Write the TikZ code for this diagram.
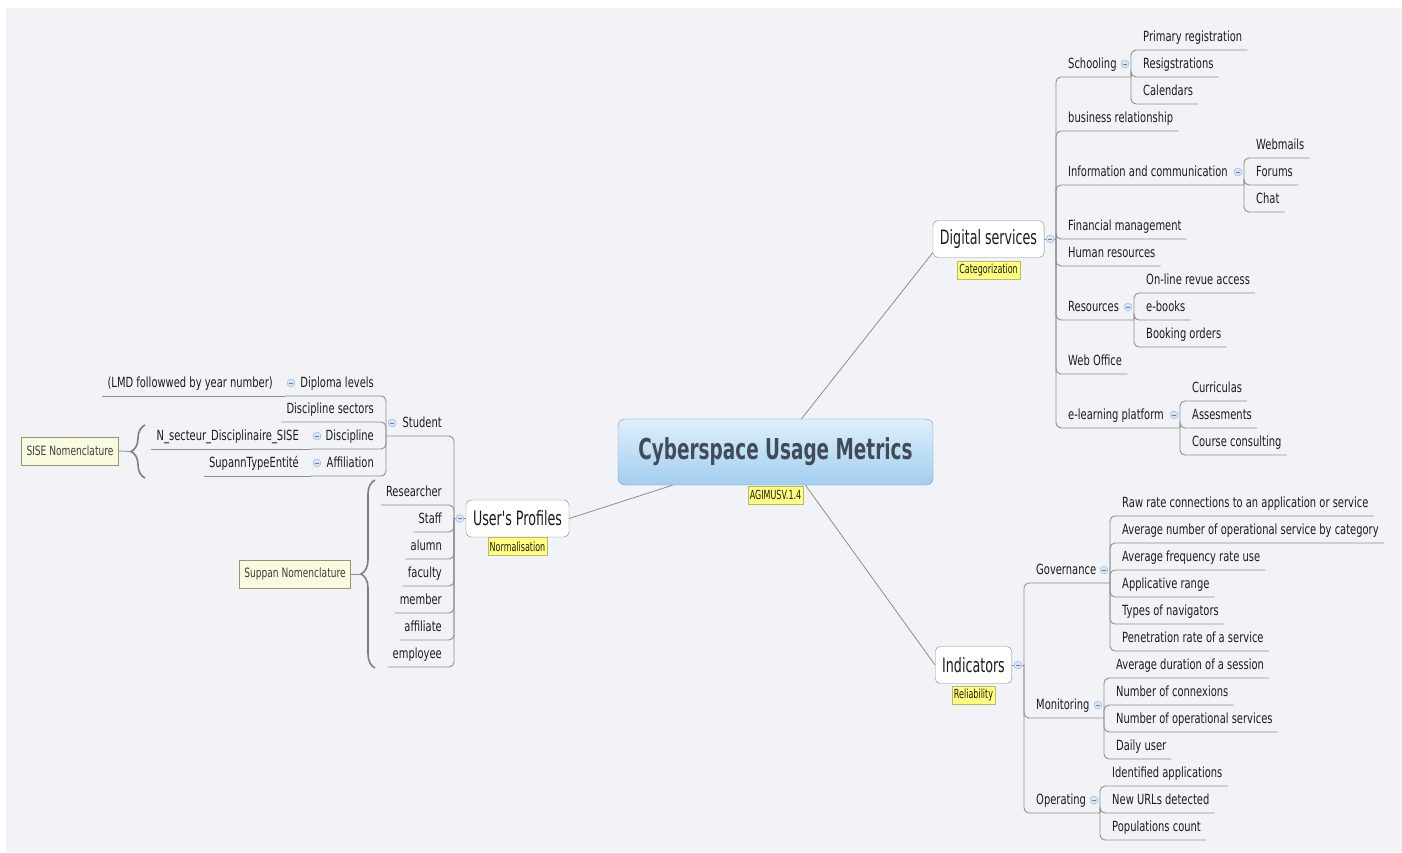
\documentclass[tikz,border=0pt]{standalone}
\usepackage{fontspec}
\setmainfont{DejaVu Sans}[FakeStretch=0.71]
\newfontfamily\titlefont{DejaVu Sans}[FakeStretch=0.64]
\usetikzlibrary{positioning, calc, decorations.pathreplacing}

\definecolor{paper}{RGB}{242,243,247}
\definecolor{ink}{RGB}{28,28,28}
\definecolor{wirec}{RGB}{140,140,145}
\definecolor{framec}{RGB}{135,135,135}
\definecolor{hubtop}{RGB}{222,239,252}
\definecolor{hubbot}{RGB}{163,206,240}
\definecolor{hubline}{RGB}{120,150,180}
\definecolor{hubtext}{RGB}{66,76,88}
\definecolor{tagfill}{RGB}{255,255,125}
\definecolor{tagline}{RGB}{185,185,110}
\definecolor{calfill}{RGB}{250,250,224}
\definecolor{calline}{RGB}{150,150,115}
\definecolor{foldfill}{RGB}{214,228,246}
\definecolor{foldline}{RGB}{150,178,212}

\tikzset{
  hub/.style={draw=hubline, rounded corners=7pt, top color=hubtop, bottom color=hubbot,
    minimum width=315pt, minimum height=66pt, text=hubtext,
    font=\titlefont\bfseries\fontsize{28.8}{34}\selectfont},
  lvl1/.style={draw=framec, fill=white, rounded corners=5pt, inner xsep=7pt,
    minimum height=37pt, text=ink, font=\titlefont\fontsize{19.8}{24}\selectfont},
  tag/.style={draw=tagline, fill=tagfill, inner xsep=2pt, inner ysep=0pt,
    minimum height=18pt, text=ink, font=\titlefont\fontsize{12.5}{14}\selectfont},
  callout/.style={draw=calline, fill=calfill, inner xsep=5pt, minimum height=28pt,
    text=ink!85, font=\fontsize{12.8}{15}\selectfont},
  topic/.style={font=\fontsize{14}{16}\selectfont, text=ink, inner xsep=5pt,
    inner ysep=0pt, text height=10.5pt, text depth=8pt},
  rtopic/.style={topic, anchor=south west},
  ltopic/.style={topic, anchor=south east},
  fold/.style={circle, draw=foldline, fill=foldfill, minimum size=8pt, inner sep=0pt,
    path picture={\draw[foldline!70!black, line width=0.7pt]
      ([xshift=-2pt]path picture bounding box.center) -- ([xshift=2pt]path picture bounding box.center);}},
  wire/.style={draw=wirec, line width=0.9pt},
  branch/.style={wire, rounded corners=5pt},
  link/.style={draw=wirec, line width=0.8pt},
  bracket/.style={draw=wirec!90!black, line width=1.6pt, decorate, decoration={brace, amplitude=14pt}},
}

\begin{document}
\begin{tikzpicture}[x=1pt, y=-1pt]
\useasboundingbox (0,0) rectangle (1402,852);
\fill[white] (0,0) rectangle (1402,852);
\fill[paper] (6,8) rectangle (1402,852);

\node[hub] (cum) at (775.5,452) {Cyberspace Usage Metrics};
\node[lvl1] (ds) at (988.5,239) {Digital services};
\node[lvl1] (ind) at (973.5,665) {Indicators};
\node[lvl1] (up) at (517.5,518.5) {User's Profiles};

\draw[link] ([xshift=26pt]cum.north) -- ([yshift=5pt]ds.south west);
\draw[link] ([xshift=30pt]cum.south) -- (ind.west);
\draw[link] ([xshift=-103pt]cum.south) -- (up.east);

\node[tag, below=1pt of cum] (agimus) {AGIMUSV.1.4};
\node[tag, below=3pt of ds] (catg) {Categorization};
\node[tag, below=2pt of ind] (reli) {Reliability};
\node[tag, below=0pt of up] (norm) {Normalisation};

\coordinate (ds-sp) at (1056,239);
\coordinate (sch-sp) at (1131,77);
\coordinate (inf-sp) at (1244,185);
\coordinate (res-sp) at (1134,320);
\coordinate (elr-sp) at (1180,428);
\draw[wire] (ds.east) -- (ds-sp);
\foreach \nm/\txt/\uy in {sch/Schooling/77, inf/Information and communication/185,
    res/Resources/320, elr/e-learning platform/428}{
  \node[rtopic] (\nm) at (1063,\uy) {\txt};
  \draw[branch] (ds-sp) |- (\nm-sp);
}
\foreach \nm/\txt/\uy in {busi/business relationship/131, fin/Financial management/239,
    hum/Human resources/266, web/Web Office/374}{
  \node[rtopic] (\nm) at (1063,\uy) {\txt};
  \draw[branch] (ds-sp) |- (\nm.south east);
}
\foreach \nm/\txt/\uy in {prim/Primary registration/50, regs/Resigstrations/77, cal/Calendars/104}{
  \node[rtopic] (\nm) at (1138,\uy) {\txt};
  \draw[branch] (sch-sp) |- (\nm.south east);
}
\foreach \nm/\txt/\uy in {webm/Webmails/158, forum/Forums/185, chat/Chat/212}{
  \node[rtopic] (\nm) at (1251,\uy) {\txt};
  \draw[branch] (inf-sp) |- (\nm.south east);
}
\foreach \nm/\txt/\uy in {onl/On-line revue access/293, ebook/e-books/320, book/Booking orders/347}{
  \node[rtopic] (\nm) at (1141,\uy) {\txt};
  \draw[branch] (res-sp) |- (\nm.south east);
}
\foreach \nm/\txt/\uy in {curr/Curriculas/401, asse/Assesments/428, cour/Course consulting/455}{
  \node[rtopic] (\nm) at (1187,\uy) {\txt};
  \draw[branch] (elr-sp) |- (\nm.south east);
}

\coordinate (ind-sp) at (1024,665);
\coordinate (gov-sp) at (1110,583);
\coordinate (mon-sp) at (1104,718);
\coordinate (ope-sp) at (1100,813);
\draw[wire] (ind.east) -- (ind-sp);
\foreach \nm/\txt/\uy in {gov/Governance/583, mon/Monitoring/718, ope/Operating/813}{
  \node[rtopic] (\nm) at (1031,\uy) {\txt};
  \draw[branch] (ind-sp) |- (\nm-sp);
}
\foreach \nm/\txt/\uy in {raw/Raw rate connections to an application or service/516,
    avgn/Average number of operational service by category/543,
    avgf/Average frequency rate use/570, appr/Applicative range/597,
    navi/Types of navigators/624, pene/Penetration rate of a service/651}{
  \node[rtopic] (\nm) at (1117,\uy) {\txt};
  \draw[branch] (gov-sp) |- (\nm.south east);
}
\foreach \nm/\txt/\uy in {avgd/Average duration of a session/678, conx/Number of connexions/705,
    opsv/Number of operational services/732, daily/Daily user/759}{
  \node[rtopic] (\nm) at (1111,\uy) {\txt};
  \draw[branch] (mon-sp) |- (\nm.south east);
}
\foreach \nm/\txt/\uy in {idap/Identified applications/786, urls/New URLs detected/813,
    popc/Populations count/840}{
  \node[rtopic] (\nm) at (1107,\uy) {\txt};
  \draw[branch] (ope-sp) |- (\nm.south east);
}

\coordinate (up-sp) at (454,518.5);
\coordinate (stu-sp) at (386,436);
\coordinate (dip-sp) at (285,396);
\coordinate (disc-sp) at (311,449);
\coordinate (affil-sp) at (311,476);
\draw[wire] (up.west) -- (up-sp);
\node[ltopic] (stu) at (447,436) {Student};
\draw[branch] (up-sp) |- (stu-sp);
\foreach \nm/\txt/\uy in {resr/Researcher/505, staff/Staff/532, alumn/alumn/559, fac/faculty/586,
    memb/member/613, affl/affiliate/640, empl/employee/667}{
  \node[ltopic] (\nm) at (447,\uy) {\txt};
  \draw[branch] (up-sp) |- (\nm.south west);
}
\foreach \nm/\txt/\uy in {dip/Diploma levels/396, disc/Discipline/449, affil/Affiliation/476}{
  \node[ltopic] (\nm) at (379,\uy) {\txt};
  \draw[branch] (stu-sp) |- (\nm-sp);
}
\node[ltopic] (dsec) at (379,422) {Discipline sectors};
\draw[branch] (stu-sp) |- (dsec.south west);
\node[ltopic] (lmd) at (278,396) {(LMD followwed by year number)};
\draw[wire] (dip-sp) -- (lmd.south west);
\node[ltopic] (nsect) at (304,449) {N\_secteur\_Disciplinaire\_SISE};
\draw[wire] (disc-sp) -- (nsect.south west);
\node[ltopic] (supann) at (304,476) {SupannTypeEntité};
\draw[wire] (affil-sp) -- (supann.south west);

\node[callout] (sise) at (70,451) {SISE Nomenclature};
\coordinate (sise-top) at (145,425);
\coordinate (sise-bot) at (145,478);
\coordinate (sise-tip) at (131,451.5);
\draw[bracket] (sise-bot) -- (sise-top);
\draw[link] (sise.east) -- (sise-tip);
\node[callout] (supp) at (295,574) {Suppan Nomenclature};
\coordinate (supp-top) at (375,480);
\coordinate (supp-bot) at (375,668);
\coordinate (supp-tip) at (361,574);
\draw[bracket] (supp-bot) -- (supp-top);
\draw[link] (supp.east) -- (supp-tip);

\node[fold] (ds-f) at ([xshift=6pt]ds.east) {};
\node[fold] (ind-f) at ([xshift=6pt]ind.east) {};
\node[fold] (up-f) at ([xshift=-6pt]up.west) {};
\foreach \nm in {sch, inf, res, elr, gov, mon, ope}{
  \node[fold] (\nm-f) at ($(\nm-sp)+(-6,-13)$) {};
}
\foreach \nm in {stu, dip, disc, affil}{
  \node[fold] (\nm-f) at ($(\nm-sp)+(6,-13)$) {};
}
\end{tikzpicture}
\end{document}
